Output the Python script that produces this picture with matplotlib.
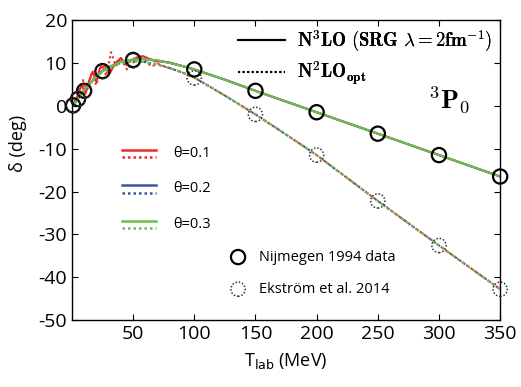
import matplotlib.pyplot as plt
from matplotlib.lines import Line2D

plt.rcParams['mathtext.fontset'] = 'cm'
plt.rcParams['axes.unicode_minus'] = False

# Nijmegen 1994 PWA (solid circles) and Ekstrom 2014 (dotted circles)
t_data = [1, 5, 10, 25, 50, 100, 150, 200, 250, 300, 350]
nijm = [0.1, 1.6, 3.5, 8.1, 10.7, 8.5, 3.5, -1.5, -6.5, -11.5, -16.5]
ekst = [0.1, 1.6, 3.5, 8.0, 10.5, 6.5, -2.0, -11.5, -22.2, -32.6, -42.8]

# smooth curves
t_curve = [1, 5, 10, 15, 20, 25, 30, 40, 50, 60, 70, 80, 90, 100, 125, 150, 175, 200, 250, 300, 350]
n3lo = [0.1, 1.6, 3.7, 5.3, 6.8, 8.1, 9.0, 10.3, 10.8, 10.9, 10.6, 10.0, 9.3, 8.5, 6.1, 3.5, 1.0, -1.5, -6.5, -11.5, -16.5]
n2lo = [0.1, 1.6, 3.7, 5.3, 6.7, 8.0, 8.9, 10.0, 10.4, 10.2, 9.6, 8.8, 7.8, 6.6, 2.4, -2.0, -6.7, -11.5, -22.2, -32.6, -42.8]

# theta = 0.1 curves oscillate at low energy
t_red = [1, 5, 8, 11, 14, 17, 20, 23, 27, 31, 35, 40, 44, 48, 53, 58, 63, 68, 75, 80, 90, 100, 125, 150, 175, 200, 250, 300, 350]
n3lo_red = [0.3, 2.5, 5.0, 2.8, 5.8, 8.0, 5.6, 8.8, 9.3, 7.6, 9.8, 11.2, 9.6, 10.5, 11.3, 11.6, 11.0, 10.4, 10.3, 10.1, 9.3, 8.5, 6.1, 3.5, 1.0, -1.5, -6.5, -11.5, -16.5]
t_red2 = [1, 5, 9, 12, 16, 20, 24, 28, 32, 36, 40, 45, 50, 55, 60, 65, 70, 80, 90, 100, 125, 150, 175, 200, 250, 300, 350]
n2lo_red = [0.3, 3.2, 6.0, 3.2, 7.5, 4.8, 10.0, 7.0, 12.5, 9.3, 11.2, 8.5, 10.0, 11.5, 10.5, 9.2, 9.8, 8.8, 7.8, 6.6, 2.4, -2.0, -6.7, -11.5, -22.2, -32.6, -42.8]

thetas = ['θ=0.1', 'θ=0.2', 'θ=0.3']
colors = ['#f02828', '#3a55a8', '#6cbf4a']

fig = plt.figure(figsize=(5.21, 3.87), dpi=100)
ax = fig.add_axes([0.138, 0.173, 0.822, 0.775])

ax.plot(t_red, n3lo_red, color=colors[0], lw=1.5)
ax.plot(t_red2, n2lo_red, color=colors[0], lw=1.5, ls=(0, (1, 1.5)))
ax.plot(t_curve, n3lo, color=colors[1], lw=1.5)
ax.plot(t_curve, n2lo, color=colors[1], lw=1.5, ls=(0, (1, 1.5)))
ax.plot(t_curve, n3lo, color=colors[2], lw=1.5)
ax.plot(t_curve, n2lo, color=colors[2], lw=1.5, ls=(1, (1.5, 1.5)))

ax.scatter(t_data, nijm, s=105, facecolors='none', edgecolors='k', linewidths=1.6,
           zorder=5, clip_on=False)
ax.scatter(t_data, ekst, s=105, facecolors='none', edgecolors='#333333', linewidths=1.1,
           linestyles=(0, (1, 1.2)), zorder=5, clip_on=False)

ax.set_xlim(0, 350)
ax.set_ylim(-50, 20)
ax.set_xticks([50, 100, 150, 200, 250, 300, 350])
ax.set_yticks(range(-50, 21, 10))
ax.tick_params(direction='in', top=True, right=True, labelsize=14, length=4)
for lab in ax.get_xticklabels() + ax.get_yticklabels():
    lab.set_family('Open Sans')
for s in ax.spines.values():
    s.set_linewidth(1.0)

ax.set_xlabel(r'T$_{\mathrm{lab}}$ (MeV)', fontsize=13, family='Open Sans', labelpad=6,
              math_fontfamily='dejavusans')
ax.set_ylabel('δ (deg)', fontsize=13, family='Open Sans')
ax.yaxis.set_label_coords(-0.105, 0.59)

# top-right legend (black lines)
h = [Line2D([], [], color='k', lw=1.5), Line2D([], [], color='k', lw=1.5, ls=(0, (1, 1.2)))]
labels = [r'$\mathbf{N}^{\mathbf{3}}\mathbf{LO\ (SRG}\ \boldsymbol{\lambda}\mathbf{=2fm}^{\mathbf{-1}}\mathbf{)}$',
          r'$\mathbf{N}^{\mathbf{2}}\mathbf{LO}_{\mathbf{opt}}$']
leg = ax.legend(h, labels, loc='upper right', frameon=False, fontsize=13.5, handlelength=2.5,
                borderaxespad=0.05, labelspacing=0.3, handletextpad=0.6)
ax.add_artist(leg)

ax.text(0.93, 0.735, r'${}^{\mathbf{3}}\mathbf{P}_{\mathbf{0}}$', transform=ax.transAxes, fontsize=19,
        ha='right', va='center')

# theta legend: solid and dotted stacked
for i, (lab, c) in enumerate(zip(thetas, colors)):
    y = 0.555 - i * 0.118
    ax.plot([0.117, 0.196], [y + 0.012, y + 0.012], color=c, lw=1.8, transform=ax.transAxes)
    ax.plot([0.117, 0.196], [y - 0.012, y - 0.012], color=c, lw=1.8, ls=(0, (1, 1.2)),
            transform=ax.transAxes)
    ax.text(0.236, y, lab, transform=ax.transAxes, fontsize=10.5, va='center', family='Open Sans')

# data legend
ax.scatter([0.388], [0.21], s=105, facecolors='none', edgecolors='k', linewidths=1.6,
           transform=ax.transAxes, clip_on=False)
ax.text(0.437, 0.21, 'Nijmegen 1994 data', transform=ax.transAxes, fontsize=10.5,
        va='center', family='Open Sans')
ax.scatter([0.388], [0.103], s=105, facecolors='none', edgecolors='#333333', linewidths=1.1,
           linestyles=(0, (1, 1.2)), transform=ax.transAxes, clip_on=False)
ax.text(0.437, 0.103, 'Ekström et al. 2014', transform=ax.transAxes, fontsize=10.5,
        va='center', family='Open Sans')

fig.savefig('out.png', dpi=100)
